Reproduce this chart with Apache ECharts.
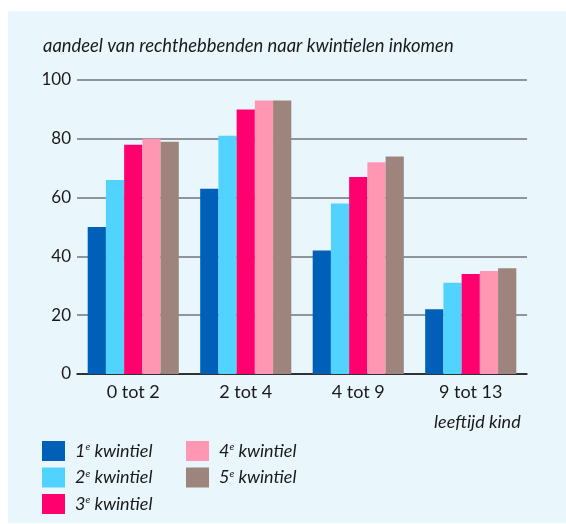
<!DOCTYPE html>
<html>
<head>
<meta charset="utf-8">
<script src="https://cdn.jsdelivr.net/npm/echarts@6/dist/echarts.min.js"></script>
<style>
  html, body { margin: 0; padding: 0; background: #fff; }
  #echartsMain { width: 566px; height: 524px; }
</style>
</head>
<body>
<div id="echartsMain"></div>
<script>
// leeftijdsgroepen (x-as)
var categories = ['0 tot 2', '2 tot 4', '4 tot 9', '9 tot 13'];
// kwintielen (series)
var seriesNames = ['1e kwintiel', '2e kwintiel', '3e kwintiel', '4e kwintiel', '5e kwintiel'];
var q1 = [50, 63, 42, 22];
var q2 = [66, 81, 58, 31];
var q3 = [78, 90, 67, 34];
var q4 = [80, 93, 72, 35];
var q5 = [79, 93, 74, 36];
var yTicks = [0, 20, 40, 60, 80, 100];

var colors = ['#005fb6', '#52d2fe', '#ff006e', '#ff97b3', '#9d847d'];
var font = 'Lato';
var ink = '#1a1a1a';

var myChart = echarts.init(document.getElementById('echartsMain'));

function makeSeries(i, data) {
	return {
		name: seriesNames[i],
		type: 'bar',
		data: data,
		barGap: '0%',
		barCategoryGap: '19%',
		itemStyle: { color: colors[i] },
		emphasis: { disabled: true }
	};
}

// legenda met superscript "e"
function makeLegend(names, left) {
	return {
		data: names,
		orient: 'vertical',
		left: left, top: 441,
		padding: 0,
		itemWidth: 23, itemHeight: 20, itemGap: 6.5,
		icon: 'rect', selectedMode: false,
		formatter: function (name) {
			return '{n|' + name.charAt(0) + '}{sup|e} {it|kwintiel}';
		},
		textStyle: {
			fontFamily: font, fontSize: 18, fontStyle: 'italic', color: ink,
			rich: {
				n: { fontFamily: font, fontSize: 18, fontStyle: 'italic', color: ink, padding: [0, 0, 0, 5] },
				sup: { fontFamily: font, fontSize: 10, fontStyle: 'italic', verticalAlign: 'top', padding: [0, 0, 8, 0], color: ink },
				it: { fontFamily: font, fontSize: 18, fontStyle: 'italic', color: ink }
			}
		}
	};
}

var option = {
	backgroundColor: '#ffffff',
	animation: false,
	graphic: [
		{ type: 'rect', z: -10, silent: true, shape: { x: 8, y: 11, width: 558, height: 512 }, style: { fill: '#e9f7fd' } },
		{ type: 'text', left: 434, top: 413, style: { text: 'leeftijd kind', font: 'italic 18px ' + font, fill: ink } }
	],
	title: {
		text: 'aandeel van rechthebbenden naar kwintielen inkomen',
		left: 43,
		top: 37,
		padding: 0,
		textStyle: { fontFamily: font, fontSize: 18.4, fontStyle: 'italic', fontWeight: 'normal', color: ink }
	},
	legend: [
		makeLegend(seriesNames.slice(0, 3), 42),
		makeLegend(seriesNames.slice(3), 186)
	],
	grid: { left: 77, right: 39, top: 80, bottom: 150, containLabel: false },
	xAxis: {
		type: 'category',
		data: categories,
		axisLine: { lineStyle: { color: '#111', width: 1.5 } },
		axisTick: { alignWithLabel: true, length: 5, lineStyle: { color: '#333' } },
		axisLabel: { fontFamily: font, fontSize: 18, color: ink, margin: 9 }
	},
	yAxis: {
		type: 'value',
		min: yTicks[0], max: yTicks[yTicks.length - 1], interval: 20,
		axisLine: { show: false },
		axisTick: { show: false },
		splitLine: { lineStyle: { color: '#6f757b', width: 1.5 } },
		axisLabel: { fontFamily: font, fontSize: 17, color: ink, margin: 6 }
	},
	series: [
		makeSeries(0, q1),
		makeSeries(1, q2),
		makeSeries(2, q3),
		makeSeries(3, q4),
		makeSeries(4, q5)
	]
};

myChart.setOption(option);
</script>
</body>
</html>
